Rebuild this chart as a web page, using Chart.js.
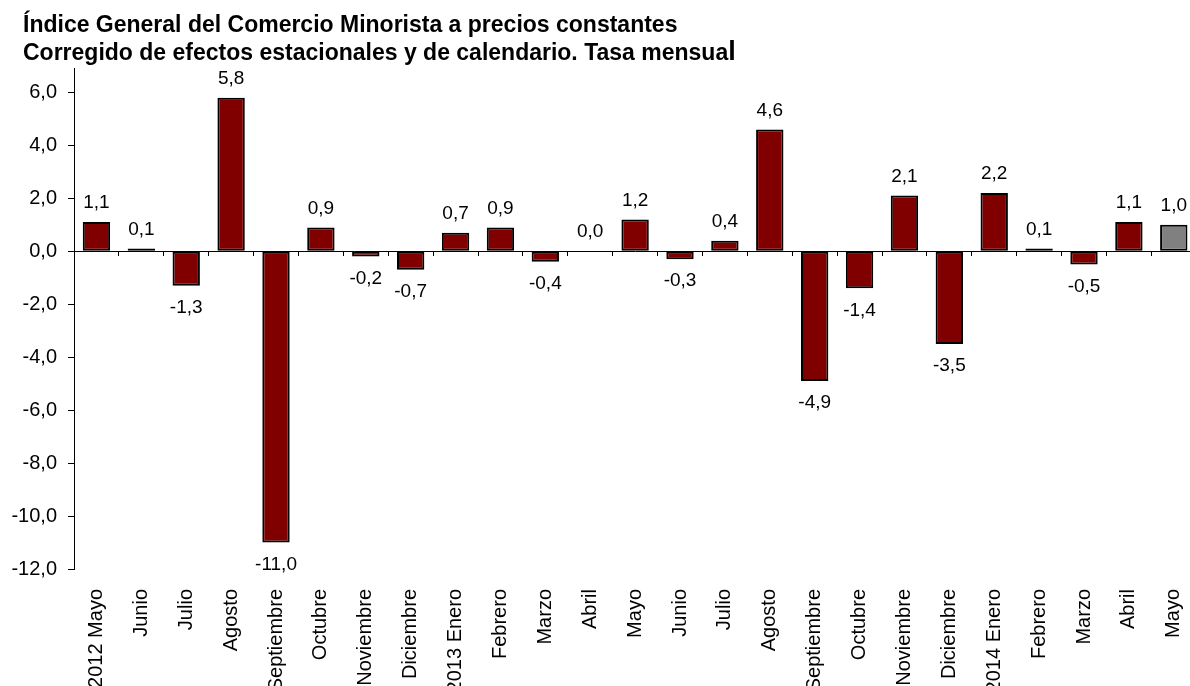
<!DOCTYPE html>
<html lang="es">
<head>
<meta charset="utf-8">
<title>Índice General del Comercio Minorista</title>
<script src="https://cdn.jsdelivr.net/npm/chart.js@4.4.1/dist/chart.umd.min.js"></script>
<style>
  html, body { margin: 0; padding: 0; background: #fff; }
  #wrap { position: relative; width: 1190px; height: 686px; overflow: hidden; }
  #titulo {
    position: absolute; left: 23px; top: 10px;
    font: bold 23px "Liberation Sans", Arial, sans-serif;
    line-height: 28px; color: #000; white-space: nowrap;
  }
  #titulo .ele { font-size: 27px; line-height: 0; }
  #grafico { position: absolute; left: 0; top: 0; }
</style>
</head>
<body>
<div id="wrap">
  <canvas id="grafico" width="1210" height="686"></canvas>
  <div id="titulo">Índice General del Comercio Minorista a precios constantes<br>Corregido de efectos estacionales y de calendario. Tasa mensua<span class="ele">l</span></div>
</div>
<script>
// Datos: tasa mensual (%)
const meses = [
  '2012 Mayo', 'Junio', 'Julio', 'Agosto', 'Septiembre', 'Octubre', 'Noviembre', 'Diciembre',
  '2013 Enero', 'Febrero', 'Marzo', 'Abril', 'Mayo', 'Junio', 'Julio', 'Agosto', 'Septiembre',
  'Octubre', 'Noviembre', 'Diciembre', '2014 Enero', 'Febrero', 'Marzo', 'Abril', 'Mayo'
];
const tasaMensual = [
  1.1, 0.1, -1.3, 5.8, -11.0, 0.9, -0.2, -0.7,
  0.7, 0.9, -0.4, 0.0, 1.2, -0.3, 0.4, 4.6, -4.9,
  -1.4, 2.1, -3.5, 2.2, 0.1, -0.5, 1.1, 1.0
];
const ticksEje = [-12, -10, -8, -6, -4, -2, 0, 2, 4, 6];

const fuente = '"Liberation Sans", Arial, sans-serif';
const granate = '#800000';
const gris = '#808080';

function coma(v) {
  return v.toFixed(1).replace('.', ',');
}

// Etiquetas de valor encima/debajo de cada barra
const etiquetasValor = {
  id: 'etiquetasValor',
  afterDatasetsDraw(chart) {
    const ctx = chart.ctx;
    const meta = chart.getDatasetMeta(0);
    ctx.save();
    ctx.font = '19px ' + fuente;
    ctx.fillStyle = '#000';
    ctx.textAlign = 'center';
    ctx.textBaseline = 'middle';
    meta.data.forEach((bar, i) => {
      const v = tasaMensual[i];
      const y = v >= 0 ? bar.y - 19 : bar.y + 22;
      ctx.fillText(coma(v), bar.x, y);
    });
    ctx.restore();
  }
};

new Chart(document.getElementById('grafico'), {
  type: 'bar',
  data: {
    labels: meses,
    datasets: [{
      data: tasaMensual,
      backgroundColor: tasaMensual.map((v, i) => i === tasaMensual.length - 1 ? gris : granate),
      borderColor: '#000',
      borderWidth: 2,
      borderSkipped: false,
      barPercentage: 0.61,
      categoryPercentage: 1
    }]
  },
  options: {
    responsive: false,
    animation: false,
    layout: { padding: { top: 68.5, right: 11, left: 0, bottom: 0 } },
    plugins: {
      legend: { display: false },
      tooltip: { enabled: false }
    },
    scales: {
      x: {
        type: 'category',
        position: { y: 0 },
        offset: true,
        grid: { offset: true, drawOnChartArea: false, tickLength: 4, color: '#000' },
        border: { color: '#000', width: 1 },
        ticks: { display: false }
      },
      xl: {
        type: 'category',
        position: 'bottom',
        labels: meses,
        offset: true,
        grid: { display: false },
        border: { display: false },
        ticks: {
          autoSkip: false,
          minRotation: 90,
          maxRotation: 90,
          padding: 12,
          color: '#000',
          font: { family: fuente, size: 20 }
        },
        afterFit(scale) { scale.height = 117; }
      },
      y: {
        min: -12,
        max: 6.9,
        grid: { drawOnChartArea: false, tickLength: 6, color: '#000' },
        border: { color: '#000', width: 1 },
        afterBuildTicks(scale) {
          scale.ticks = ticksEje.map(v => ({ value: v }));
        },
        ticks: {
          padding: 11,
          color: '#000',
          font: { family: fuente, size: 20 },
          callback: v => coma(v)
        },
        afterFit(scale) { scale.width = 74; }
      }
    }
  },
  plugins: [etiquetasValor]
});
</script>
</body>
</html>
